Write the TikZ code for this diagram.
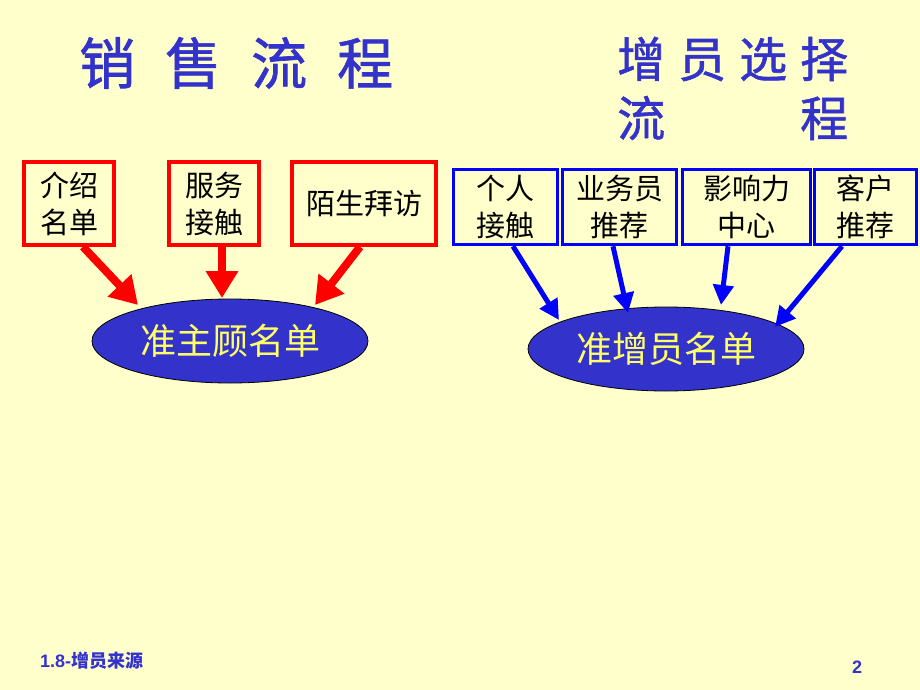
\documentclass[tikz,border=0pt]{standalone}
\usepackage{fontspec}
\setmainfont{Liberation Sans}
\newfontfamily\cjk{Noto Sans CJK SC}
\newfontfamily\cjkm[FakeBold=1.2]{Noto Sans CJK SC}
\newfontfamily\cjkb{Noto Sans CJK SC Bold}
\usetikzlibrary{arrows.meta,calc,shapes.geometric}
\definecolor{bgyellow}{HTML}{FFFFCC}
\definecolor{titleblue}{HTML}{3333CC}
\definecolor{ellfill}{HTML}{3333CC}
\definecolor{elltext}{HTML}{FFFF66}
\definecolor{boxred}{HTML}{FF0000}
\definecolor{boxblue}{HTML}{0000FF}
\tikzset{
  redbox/.style={draw=boxred, line width=3.5pt, fill=bgyellow, rectangle, inner sep=0pt, minimum height=83pt, align=center, font=\cjk\fontsize{29}{37}\selectfont, text=black},
  bluebox/.style={draw=boxblue, line width=3.5pt, fill=bgyellow, rectangle, inner sep=0pt, minimum height=75pt, align=center, font=\cjk\fontsize{29}{37}\selectfont, text=black},
  oval/.style={ellipse, draw=black, line width=0.8pt, fill=ellfill, minimum width=276pt, minimum height=84pt, inner sep=0pt, font=\cjk\fontsize{36}{40}\selectfont, text=elltext},
  redarr/.style={draw=boxred, line width=8pt, -{Triangle[length=27pt,width=31pt]}},
  bluearr/.style={draw=boxblue, line width=5pt, -{Triangle[length=20pt,width=20pt]}},
  titletext/.style={text=titleblue, inner sep=0pt, anchor=west},
}
\begin{document}
\begin{tikzpicture}[x=1pt,y=-1pt]
\fill[bgyellow] (0,0) rectangle (920,690);
\useasboundingbox (0,0) rectangle (920,690);

% titles
\node[titletext, font=\cjkm\fontsize{56}{60}\selectfont] (t1) at (79,63) {销\hspace{30pt}售\hspace{30pt}流\hspace{30pt}程};
\node[titletext, font=\cjkm\fontsize{48}{52}\selectfont] (t2a) at (617,59) {增\hspace{13pt}员\hspace{13pt}选\hspace{13pt}择};
\node[titletext, font=\cjkm\fontsize{48}{52}\selectfont] (t2b) at (617,118) {流\hspace{135pt}程};

% red boxes
\node[redbox, minimum width=90pt] (r1) at (69,203.5) {介绍\\名单};
\node[redbox, minimum width=90pt] (r2) at (214,203.5) {服务\\接触};
\node[redbox, minimum width=144pt] (r3) at (364,203.5) {陌生拜访};

% blue boxes
\node[bluebox, minimum width=104pt] (b1) at (505.5,207) {个人\\接触};
\node[bluebox, minimum width=114pt] (b2) at (619.5,207) {业务员\\推荐};
\node[bluebox, minimum width=128pt] (b3) at (746.5,207) {影响力\\中心};
\node[bluebox, minimum width=102pt] (b4) at (865.5,207) {客户\\推荐};

% ellipses
\node[oval] (e1) at (230,341) {准主顾名单};
\node[oval] (e2) at (666,349) {准增员名单};

% arrows
\draw[redarr] ($(r1.south)+(14,0)$) -- ($(e1.center)+(-92,-36)$);
\draw[redarr] ($(r2.south)+(8,0)$) -- ($(e1.center)+(-8,-43)$);
\draw[redarr] ($(r3.south)+(-4,0)$) -- ($(e1.center)+(85,-36)$);

\draw[bluearr] ($(b1.south)+(7.5,0)$) -- ($(e2.center)+(-107,-29)$);
\draw[bluearr] ($(b2.south)+(-6.5,0)$) -- ($(e2.center)+(-38,-36)$);
\draw[bluearr] ($(b3.south)+(-18.5,0)$) -- ($(e2.center)+(55,-44)$);
\draw[bluearr] ($(b4.south)+(-23.5,0)$) -- ($(e2.center)+(109,-22)$);

% footer
\node[anchor=west, inner sep=0pt, text=titleblue, font=\bfseries\fontsize{18}{20}\selectfont] (foot) at (40,661) {1.8-{\cjkb 增员来源}};
\node[inner sep=0pt, text=titleblue, font=\bfseries\fontsize{18}{20}\selectfont] (pg) at (857,667) {2};
\end{tikzpicture}
\end{document}
